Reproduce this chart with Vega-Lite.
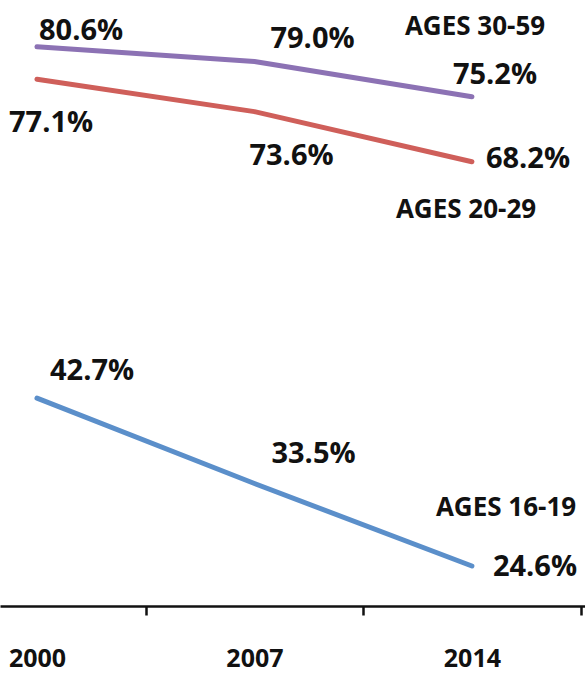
{
  "$schema": "https://vega.github.io/schema/vega-lite/v6.json",
  "width": 585,
  "height": 606,
  "autosize": {"type": "none"},
  "padding": {"left": 0, "top": 0, "right": 0, "bottom": 69},
  "background": "white",
  "config": {
    "view": {"stroke": null},
    "text": {"font": "Open Sans", "fontWeight": "bold", "fontSize": 29, "align": "left", "baseline": "middle", "color": "#111111"}
  },
  "data": {
    "values": [
      {"series": "Ages 30-59", "year": 2000, "rate": 0.806},
      {"series": "Ages 30-59", "year": 2007, "rate": 0.790},
      {"series": "Ages 30-59", "year": 2014, "rate": 0.752},
      {"series": "Ages 20-29", "year": 2000, "rate": 0.771},
      {"series": "Ages 20-29", "year": 2007, "rate": 0.736},
      {"series": "Ages 20-29", "year": 2014, "rate": 0.682},
      {"series": "Ages 16-19", "year": 2000, "rate": 0.427},
      {"series": "Ages 16-19", "year": 2007, "rate": 0.335},
      {"series": "Ages 16-19", "year": 2014, "rate": 0.246}
    ]
  },
  "encoding": {
    "x": {
      "field": "year", "type": "quantitative",
      "scale": {"domain": [1998.81, 2017.64], "nice": false, "zero": false},
      "axis": {
        "title": null, "grid": false,
        "values": [2000, 2003.5, 2007, 2010.5, 2014, 2017.5],
        "labelExpr": "datum.value % 1 == 0 ? '' + datum.value : ''",
        "labelOverlap": false, "labelFlush": false,
        "labelFont": "Open Sans", "labelFontWeight": "bold", "labelFontSize": 25, "labelColor": "#111111",
        "labelBaseline": "middle", "labelPadding": 43,
        "tickSize": 9, "tickWidth": 2.5, "tickColor": "#111111",
        "tickOpacity": {"condition": {"test": "datum.value % 1 == 0", "value": 0}, "value": 1},
        "domainColor": "#111111", "domainWidth": 2.5
      }
    },
    "y": {
      "field": "rate", "type": "quantitative",
      "scale": {"domain": [0.2029, 0.8564], "nice": false, "zero": false},
      "axis": null
    }
  },
  "layer": [
    {
      "mark": {"type": "line", "strokeWidth": 5, "strokeCap": "round", "strokeJoin": "round"},
      "encoding": {
        "color": {
          "field": "series", "type": "nominal", "legend": null,
          "scale": {"domain": ["Ages 30-59", "Ages 20-29", "Ages 16-19"], "range": ["#8C72B4", "#CF5F5A", "#5B8FCA"]}
        }
      }
    },
    {"transform": [{"filter": "datum.series == 'Ages 30-59' && datum.year == 2000"}], "mark": {"type": "text", "dx": 2, "dy": -16}, "encoding": {"text": {"field": "rate", "format": ".1%"}}},
    {"transform": [{"filter": "datum.series == 'Ages 30-59' && datum.year == 2007"}], "mark": {"type": "text", "dx": 16, "dy": -23}, "encoding": {"text": {"field": "rate", "format": ".1%"}}},
    {"transform": [{"filter": "datum.series == 'Ages 30-59' && datum.year == 2014"}], "mark": {"type": "text", "dx": -19, "dy": -22}, "encoding": {"text": {"field": "rate", "format": ".1%"}}},
    {"transform": [{"filter": "datum.series == 'Ages 20-29' && datum.year == 2000"}], "mark": {"type": "text", "dx": -28, "dy": 44}, "encoding": {"text": {"field": "rate", "format": ".1%"}}},
    {"transform": [{"filter": "datum.series == 'Ages 20-29' && datum.year == 2007"}], "mark": {"type": "text", "dx": -5, "dy": 44}, "encoding": {"text": {"field": "rate", "format": ".1%"}}},
    {"transform": [{"filter": "datum.series == 'Ages 20-29' && datum.year == 2014"}], "mark": {"type": "text", "dx": 14, "dy": -3}, "encoding": {"text": {"field": "rate", "format": ".1%"}}},
    {"transform": [{"filter": "datum.series == 'Ages 16-19' && datum.year == 2000"}], "mark": {"type": "text", "dx": 13, "dy": -27}, "encoding": {"text": {"field": "rate", "format": ".1%"}}},
    {"transform": [{"filter": "datum.series == 'Ages 16-19' && datum.year == 2007"}], "mark": {"type": "text", "dx": 17, "dy": -30}, "encoding": {"text": {"field": "rate", "format": ".1%"}}},
    {"transform": [{"filter": "datum.series == 'Ages 16-19' && datum.year == 2014"}], "mark": {"type": "text", "dx": 21, "dy": 1}, "encoding": {"text": {"field": "rate", "format": ".1%"}}},
    {"transform": [{"filter": "datum.series == 'Ages 30-59' && datum.year == 2014"}], "mark": {"type": "text", "dx": -67, "dy": -70, "fontSize": 26}, "encoding": {"text": {"value": "AGES 30-59"}}},
    {"transform": [{"filter": "datum.series == 'Ages 20-29' && datum.year == 2014"}], "mark": {"type": "text", "dx": -76, "dy": 48, "fontSize": 26}, "encoding": {"text": {"value": "AGES 20-29"}}},
    {"transform": [{"filter": "datum.series == 'Ages 16-19' && datum.year == 2014"}], "mark": {"type": "text", "dx": -36, "dy": -58, "fontSize": 26}, "encoding": {"text": {"value": "AGES 16-19"}}}
  ]
}
